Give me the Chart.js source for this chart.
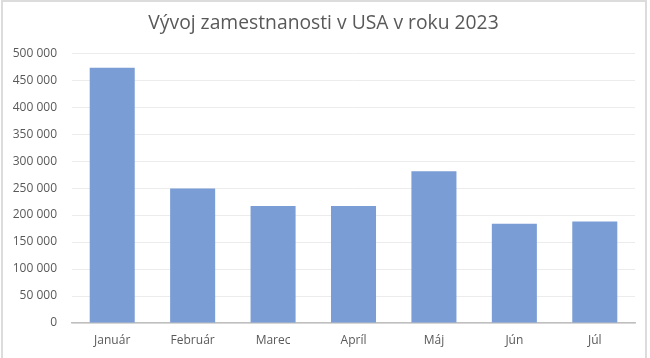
<!DOCTYPE html>
<html>
<head>
<meta charset="utf-8">
<script src="https://cdn.jsdelivr.net/npm/chart.js@4/dist/chart.umd.min.js"></script>
<style>
  body { margin: 0; background: #fff; }
  .wrap { position: relative; width: 650px; height: 358px; }
  .frame { position: absolute; left: 1px; top: 0; width: 646px; height: 360px;
           border: 2px solid #dcdcdc; box-sizing: border-box; pointer-events: none; }
</style>
</head>
<body>
<div class="wrap">
  <canvas id="myChart" width="650" height="358"></canvas>
  <div class="frame"></div>
</div>
<script>
// data
var months = ["Január", "Február", "Marec", "Apríl", "Máj", "Jún", "Júl"];
var jobs = [473000, 249000, 217000, 217000, 281000, 184000, 188000];
var barColor = "#7b9dd5";
var textColor = "#595959";

function spaced(v) {
  return String(v).replace(/\B(?=(\d{3})+(?!\d))/g, " ");
}

new Chart("myChart", {
  type: "bar",
  data: {
    labels: months,
    datasets: [{
      data: jobs,
      backgroundColor: barColor,
      categoryPercentage: 1,
      barPercentage: 0.56
    }]
  },
  options: {
    responsive: false,
    animation: false,
    layout: { padding: { left: 12, right: 15, top: 0, bottom: 0 } },
    plugins: {
      legend: { display: false },
      tooltip: { enabled: false },
      title: {
        display: true,
        text: "Vývoj zamestnanosti v USA v roku 2023",
        color: textColor,
        font: { family: "Open Sans", size: 19.3, weight: "normal", lineHeight: 1.2 },
        padding: { top: 12, bottom: 18 }
      }
    },
    scales: {
      x: {
        grid: { display: false, drawTicks: false },
        border: { color: "#bfbfbf", width: 1.5 },
        ticks: { color: textColor, font: { family: "Open Sans", size: 12 }, padding: 10 },
        afterFit: function(scale) { scale.height = 35; }
      },
      y: {
        min: 0,
        max: 500000,
        ticks: {
          stepSize: 50000,
          color: textColor,
          font: { family: "Open Sans", size: 12 },
          padding: 15,
          callback: function(v) { return spaced(v); }
        },
        grid: { color: "#ececec", drawTicks: false },
        border: { display: false },
        afterFit: function(scale) { scale.width = 60; }
      }
    }
  }
});
</script>
</body>
</html>
